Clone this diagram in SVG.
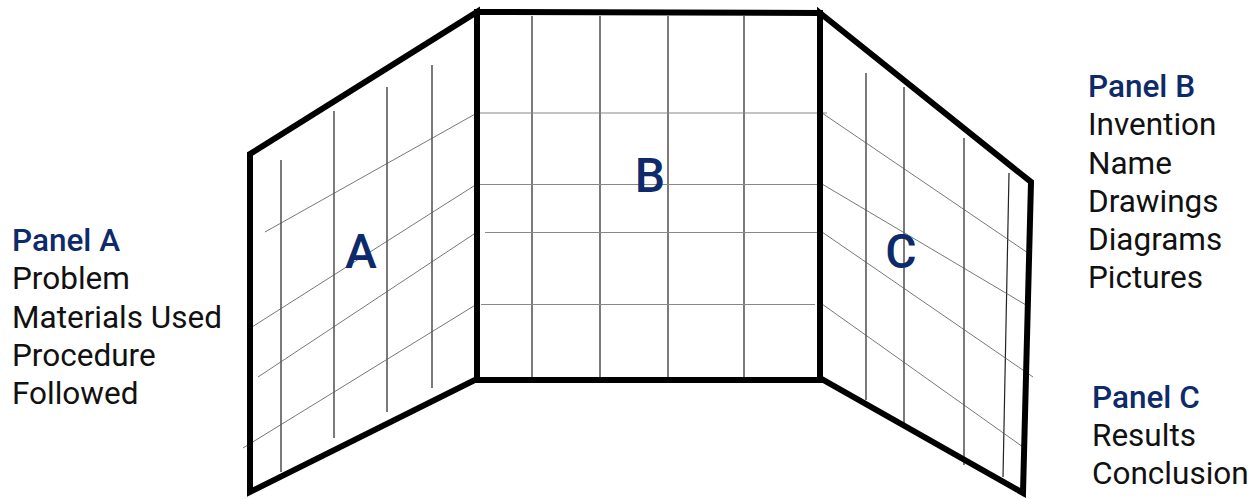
<svg xmlns="http://www.w3.org/2000/svg" width="1255" height="499" viewBox="0 0 1255 499">
<style>
.frame{fill:none;stroke:#000;stroke-width:6;stroke-linecap:square;stroke-linejoin:miter}
.v{stroke:#222;stroke-width:1.2;fill:none}
.d{stroke:#555;stroke-width:0.8;fill:none}
.h{stroke:#888;stroke-width:1;fill:none}
.big{font-family:Roboto,"Liberation Sans",sans-serif;font-size:48px;font-weight:500;fill:#0d2a6b;text-anchor:middle}
.title{font-family:Roboto,"Liberation Sans",sans-serif;font-size:31.5px;font-weight:500;fill:#0d2a6b}
.body{font-family:Roboto,"Liberation Sans",sans-serif;font-size:31.5px;fill:#111}
</style>
<rect width="1255" height="499" fill="#fff"/>
<g id="panel-a">
<line class="v" x1="281" y1="160" x2="281" y2="472"/>
<line class="v" x1="334" y1="111" x2="334" y2="438"/>
<line class="v" x1="387" y1="87" x2="387" y2="412"/>
<line class="v" x1="432" y1="65" x2="432" y2="388"/>
<line class="d" x1="265" y1="232" x2="477" y2="113"/>
<line class="d" x1="252" y1="327" x2="477" y2="184"/>
<line class="d" x1="258" y1="377" x2="477" y2="232"/>
<line class="d" x1="243" y1="448" x2="477" y2="304"/>
<polygon class="frame" points="250,154 477,12 477,379 250,492"/>
<text class="big" x="361" y="268">A</text>
</g>
<g id="panel-b">
<line class="v" x1="532" y1="16" x2="532" y2="380"/>
<line class="v" x1="600" y1="16" x2="600" y2="380"/>
<line class="v" x1="668" y1="16" x2="668" y2="380"/>
<line class="v" x1="744" y1="16" x2="744" y2="380"/>
<line class="h" x1="477" y1="113" x2="827" y2="113"/>
<line class="h" x1="477" y1="184.5" x2="822" y2="184.5"/>
<line class="h" x1="485" y1="232.5" x2="822" y2="232.5"/>
<line class="h" x1="481" y1="304.5" x2="815" y2="304.5"/>
<polygon class="frame" points="477,12 820,13 820,380 477,380"/>
<text class="big" x="650" y="192">B</text>
</g>
<g id="panel-c">
<line class="v" x1="866" y1="73" x2="866" y2="400"/>
<line class="v" x1="904" y1="87" x2="904" y2="423"/>
<line class="v" x1="964" y1="138" x2="964" y2="465"/>
<line class="v" x1="1009" y1="173" x2="1003" y2="477"/>
<line class="d" x1="822" y1="113" x2="1028" y2="253"/>
<line class="d" x1="822" y1="184" x2="1026" y2="305"/>
<line class="d" x1="822" y1="232" x2="1033" y2="377"/>
<line class="d" x1="822" y1="304" x2="1023" y2="447"/>
<polygon class="frame" points="820,13 1031,182 1023,493 820,378"/>
<text class="big" x="901" y="268">C</text>
</g>
<g id="label-a">
<text class="title" x="12" y="251">Panel A</text>
<text class="body" x="12" y="289">Problem</text>
<text class="body" x="12" y="327.5">Materials Used</text>
<text class="body" x="12" y="366">Procedure</text>
<text class="body" x="12" y="404">Followed</text>
</g>
<g id="label-b">
<text class="title" x="1088" y="97">Panel B</text>
<text class="body" x="1088" y="135">Invention</text>
<text class="body" x="1088" y="173.5">Name</text>
<text class="body" x="1088" y="212">Drawings</text>
<text class="body" x="1088" y="250">Diagrams</text>
<text class="body" x="1088" y="288">Pictures</text>
</g>
<g id="label-c">
<text class="title" x="1092" y="408">Panel C</text>
<text class="body" x="1092" y="446">Results</text>
<text class="body" x="1092" y="484">Conclusion</text>
</g>
</svg>
